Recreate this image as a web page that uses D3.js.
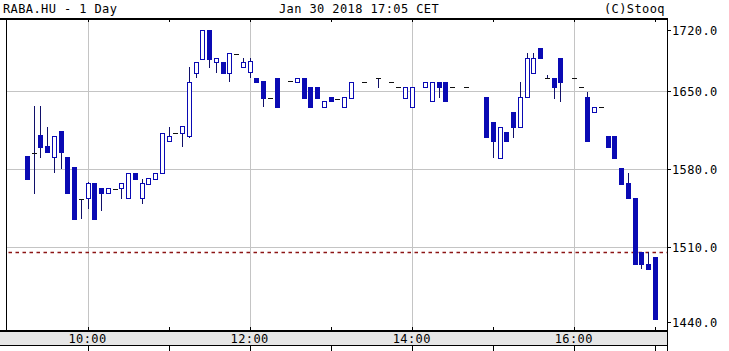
<!DOCTYPE html>
<html>
<head>
<meta charset="utf-8">
<script src="https://cdn.jsdelivr.net/npm/d3@7"></script>
<style>
  body { margin: 0; background: #fff; }
  text { font-family: "DejaVu Sans Mono", monospace; font-size: 12px; letter-spacing: 0.4px; fill: #000; }
</style>
</head>
<body>
<div id="container"></div>
<script>
/**
 * CONSTANTS AND GLOBALS
 * */
const width = 729,
  height = 351,
  plot = { left: 6.5, right: 667, top: 19, bottom: 331 };

// 5-minute bars, RABA.HU, Jan 30 2018
const times = ["09:15","09:20","09:25","09:30","09:35","09:40","09:45","09:50","09:55","10:00",
  "10:05","10:10","10:15","10:20","10:25","10:30","10:35","10:40","10:45","10:50",
  "10:55","11:00","11:05","11:10","11:15","11:20","11:25","11:30","11:35","11:40",
  "11:45","11:50","11:55","12:00","12:05","12:10","12:15","12:20","12:30","12:35",
  "12:40","12:45","12:50","12:55","13:00","13:05","13:10","13:15","13:25","13:35",
  "13:45","13:50","13:55","14:00","14:10","14:15","14:20","14:25","14:30","14:40",
  "14:55","15:00","15:05","15:10","15:15","15:20","15:25","15:30","15:35","15:40",
  "15:45","15:50","16:00","16:05","16:10","16:15","16:20","16:25","16:30","16:35",
  "16:40","16:45","16:50","16:55","17:00"];
const opens = [1591.5,1596,1610,1600.5,1590.5,1613.5,1591,1581.5,1553.5,1553.5,
  1567.5,1562.5,1558,1562.5,1562.5,1553.5,1576.5,1553.5,1566.5,1571,
  1576.5,1604.5,1612.5,1612.5,1609.5,1666,1678.5,1704.5,1675.5,1675.5,
  1666,1683.5,1671,1667,1661.5,1658.5,1644,1661.5,1659.5,1658,
  1661.5,1653.5,1653.5,1635.5,1644,1643.5,1635.5,1643.5,1658,1661.5,
  1658,1653.5,1643.5,1635.5,1653.5,1640.5,1658,1658,1653.5,1653.5,
  1644.5,1622,1590,1613,1631,1617.5,1644,1666,1688.5,1661.5,
  1661.5,1679.5,1661.5,1653.5,1644.5,1631,1636,1609.5,1609.5,1581,
  1567,1553.5,1505.5,1495,1500.5];
const highs = [1591.5,1637,1637,1618,1609.5,1613.5,1591,1581.5,1553.5,1568.5,
  1567.5,1562.5,1563,1562.5,1567,1576.5,1576.5,1571,1572,1576.5,
  1612.5,1618,1612.5,1618,1671.5,1676,1704.5,1704.5,1679,1675.5,
  1683.5,1683.5,1679.5,1679.5,1661.5,1658.5,1644,1661.5,1659.5,1661.5,
  1661.5,1653.5,1653.5,1640.5,1644,1643.5,1644.5,1658,1658,1661.5,
  1658,1653.5,1653.5,1653.5,1658,1658,1658,1658,1653.5,1653.5,
  1644.5,1622,1617.5,1613,1631,1658,1684,1684,1688.5,1665,
  1661.5,1679.5,1661.5,1653.5,1649,1635.5,1636,1609.5,1609.5,1581,
  1576.5,1553.5,1505.5,1505.5,1500.5];
const lows = [1571,1558,1590,1595,1576.5,1580.5,1558,1535,1535,1544.5,
  1535,1543,1558,1562.5,1553.5,1553.5,1571,1549,1566.5,1571,
  1576.5,1604.5,1612.5,1600,1608.5,1661.5,1678.5,1670.5,1666,1666,
  1658,1683.5,1671,1661.5,1658,1635.5,1644,1635.5,1659.5,1658,
  1643.5,1635.5,1643.5,1635.5,1640.5,1643.5,1635.5,1643.5,1658,1652.5,
  1658,1653.5,1643.5,1635.5,1653.5,1640.5,1644,1640.5,1653.5,1653.5,
  1608.5,1590,1590,1604.5,1608.5,1617.5,1644,1666,1679,1661.5,
  1643.5,1640,1661.5,1653.5,1604.5,1631,1636,1600,1590,1566.5,
  1553.5,1495,1490.5,1490.5,1445.5];
const closes = [1571,1595,1600,1595,1609.5,1595,1558,1535,1553,1567.5,
  1535,1558,1563,1562.5,1567,1576.5,1571,1567.5,1572,1576.5,
  1612.5,1609.5,1612.5,1618,1658,1676,1704.5,1678.5,1679,1666,
  1683.5,1683.5,1676,1676.5,1658,1643.5,1644,1635.5,1659.5,1661.5,
  1643.5,1635.5,1643.5,1640.5,1640.5,1643.5,1644.5,1658,1658,1661.5,
  1658,1653.5,1653.5,1653.5,1658,1658,1653.5,1640.5,1653.5,1653.5,
  1608.5,1604.5,1617.5,1604.5,1617.5,1644,1679,1679.5,1679,1661.5,
  1653,1658,1661.5,1653.5,1604.5,1635.5,1636,1600,1590,1566.5,
  1553.5,1495,1495,1490.5,1445.5];

const prevClose = 1505.5;
const yTicks = [1720, 1650, 1580, 1510, 1440];
const title = "RABA.HU - 1 Day",
  stamp = "Jan 30 2018 17:05 CET",
  credit = "(C)Stooq";

const parseTime = d3.timeParse("%Y-%m-%d %H:%M");
const toDate = t => parseTime("2018-01-30 " + t);

const bars = times.map((t, i) => ({
  time: toDate(t), open: opens[i], high: highs[i], low: lows[i], close: closes[i]
}));

/**
 * SCALES
 * */
const xScale = d3.scaleTime()
  .domain([toDate("09:00"), toDate("17:09")])
  .range([plot.left, plot.right]);

const yScale = d3.scaleLinear()
  .domain([1435, 1714.8])
  .range([plot.bottom, plot.top]);

const blue = "#0a0ab4", wick = "#10106a";

/**
 * CREATE SVG ELEMENT
 * */
const svg = d3.select("#container").append("svg")
  .attr("width", width)
  .attr("height", height)
  .style("display", "block");

const crisp = v => Math.round(v) + 0.5;

// header
svg.append("text").attr("x", 3).attr("y", 13).text(title);
svg.append("text").attr("x", 279).attr("y", 13).text(stamp);
svg.append("text").attr("x", 665).attr("y", 13).attr("text-anchor", "end").text(credit);

// x axis band
svg.append("rect")
  .attr("x", 0).attr("y", plot.bottom)
  .attr("width", plot.right).attr("height", 14)
  .attr("fill", "#e6e6e6");

const hours = d3.timeHour.every(1).range(toDate("09:30"), toDate("17:05"));
const evenHours = hours.filter(d => d.getHours() % 2 === 0);

// grid
svg.append("g").selectAll("line")
  .data(evenHours)
  .join("line")
  .attr("x1", d => crisp(xScale(d))).attr("x2", d => crisp(xScale(d)))
  .attr("y1", plot.top).attr("y2", plot.bottom)
  .attr("stroke", "#c4c4c4");

svg.append("g").selectAll("line")
  .data(yTicks.filter(v => yScale(v) > plot.top + 20 && yScale(v) < plot.bottom - 10))
  .join("line")
  .attr("x1", plot.left).attr("x2", plot.right)
  .attr("y1", d => crisp(yScale(d))).attr("y2", d => crisp(yScale(d)))
  .attr("stroke", "#c4c4c4");

// previous close
svg.append("line")
  .attr("x1", plot.left + 2).attr("x2", plot.right)
  .attr("y1", crisp(yScale(prevClose))).attr("y2", crisp(yScale(prevClose)))
  .attr("stroke", "#8c1414")
  .attr("stroke-width", 1.4)
  .attr("stroke-dasharray", "3.5,3.5");

// frame
const frame = svg.append("g").attr("stroke", "#000").attr("shape-rendering", "crispEdges");
frame.append("line").attr("x1", 0).attr("x2", plot.right + 1).attr("y1", plot.top).attr("y2", plot.top).attr("stroke-width", 1.5);
frame.append("line").attr("x1", 0).attr("x2", plot.right + 1).attr("y1", plot.bottom).attr("y2", plot.bottom).attr("stroke-width", 1.5);
frame.append("line").attr("x1", 0).attr("x2", plot.right).attr("y1", plot.bottom + 14.5).attr("y2", plot.bottom + 14.5);
frame.append("line").attr("x1", plot.left).attr("x2", plot.left).attr("y1", plot.top).attr("y2", plot.bottom);
frame.append("line").attr("x1", crisp(plot.right)).attr("x2", crisp(plot.right)).attr("y1", plot.top).attr("y2", height);

// hour ticks (top, above bottom border, below band)
hours.forEach(h => {
  const x = crisp(xScale(h));
  frame.append("line").attr("x1", x).attr("x2", x).attr("y1", plot.top).attr("y2", plot.top + 3);
  frame.append("line").attr("x1", x).attr("x2", x).attr("y1", plot.bottom - 4).attr("y2", plot.bottom);
  frame.append("line").attr("x1", x).attr("x2", x).attr("y1", plot.bottom + 14.5).attr("y2", height);
});

// x labels
svg.append("g").selectAll("text")
  .data(evenHours)
  .join("text")
  .attr("x", d => xScale(d))
  .attr("y", plot.bottom + 11.5)
  .attr("text-anchor", "middle")
  .text(d => d3.timeFormat("%H:%M")(d));

// y labels + ticks
const labelY = v => Math.min(Math.max(yScale(v), 30), 322);
svg.append("g").selectAll("line")
  .data(yTicks)
  .join("line")
  .attr("x1", plot.right).attr("x2", plot.right + 4)
  .attr("y1", d => crisp(labelY(d))).attr("y2", d => crisp(labelY(d)))
  .attr("stroke", "#000");

svg.append("g").selectAll("text")
  .data(yTicks)
  .join("text")
  .attr("x", 672)
  .attr("y", d => labelY(d) + 4.5)
  .text(d => d3.format(".1f")(d));

/**
 * CANDLES
 * */
const candles = svg.append("g").attr("shape-rendering", "crispEdges");

candles.selectAll("line.wick")
  .data(bars.filter(d => d.high - d.low > 0.6))
  .join("line")
  .attr("class", "wick")
  .attr("x1", d => crisp(xScale(d.time))).attr("x2", d => crisp(xScale(d.time)))
  .attr("y1", d => yScale(d.high)).attr("y2", d => yScale(d.low))
  .attr("stroke", wick);

const bodies = bars.filter(d => Math.abs(d.open - d.close) >= 2);
candles.selectAll("rect.body")
  .data(bodies)
  .join("rect")
  .attr("class", "body")
  .attr("x", d => Math.round(xScale(d.time)) - 1.5)
  .attr("width", 4)
  .attr("y", d => yScale(Math.max(d.open, d.close)))
  .attr("height", d => Math.abs(yScale(d.open) - yScale(d.close)))
  .attr("fill", d => d.close < d.open ? blue : "#fff")
  .attr("stroke", blue);

candles.selectAll("line.doji")
  .data(bars.filter(d => Math.abs(d.open - d.close) < 2))
  .join("line")
  .attr("class", "doji")
  .attr("x1", d => Math.round(xScale(d.time)) - 2).attr("x2", d => Math.round(xScale(d.time)) + 3)
  .attr("y1", d => crisp(yScale(d.close))).attr("y2", d => crisp(yScale(d.close)))
  .attr("stroke", "#111");
</script>
</body>
</html>
